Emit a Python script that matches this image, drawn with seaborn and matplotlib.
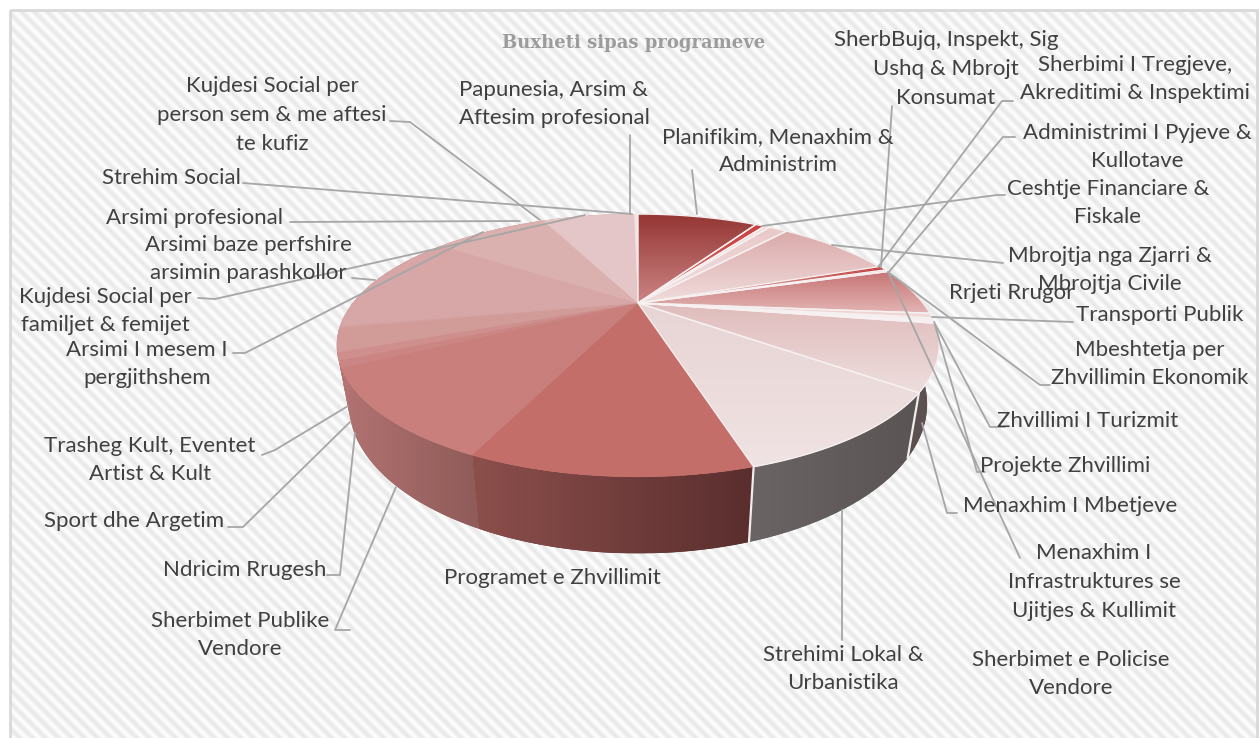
import numpy as np
import seaborn as sns
import matplotlib.pyplot as plt
from matplotlib.patches import Polygon, Rectangle
from matplotlib.path import Path
from matplotlib.transforms import Affine2D, Transform

# Chart data, clockwise from 12 o'clock
categories = ['Planifikim, Menaxhim &\nAdministrim', 'Ceshtje Financiare &\nFiskale',
              'Menaxhim I\nInfrastruktures se\nUjitjes & Kullimit', 'Sherbimet e Policise\nVendore',
              'Mbrojtja nga Zjarri &\nMbrojtja Civile', 'SherbBujq, Inspekt, Sig\nUshq & Mbrojt\nKonsumat',
              'Sherbimi I Tregjeve,\nAkreditimi & Inspektimi', 'Administrimi I Pyjeve &\nKullotave',
              'Rrjeti Rrugor', 'Transporti Publik', 'Mbeshtetja per\nZhvillimin Ekonomik',
              'Zhvillimi I Turizmit', 'Projekte Zhvillimi', 'Menaxhim I Mbetjeve',
              'Strehimi Lokal &\nUrbanistika', 'Programet e Zhvillimit', 'Sherbimet Publike\nVendore',
              'Ndricim Rrugesh', 'Sport dhe Argetim', 'Trasheg Kult, Eventet\nArtist & Kult',
              'Arsimi I mesem I\npergjithshem', 'Kujdesi Social per\nfamiljet & femijet',
              'Arsimi baze perfshire\narsimin parashkollor', 'Arsimi profesional',
              'Kujdesi Social per\nperson sem & me aftesi\nte kufiz', 'Strehim Social',
              'Papunesia, Arsim &\nAftesim profesional']
shares = [8.83, 0.67, 0.39, 1.36, 8.17, 0.28, 0.31, 0.28, 6.06, 0.61, 0.31, 0.19, 0.14, 7.89,
          10.0, 11.25, 10.5, 0.83, 0.94, 2.81, 0.11, 0.11, 12.69, 8.17, 0.11, 6.72, 0.28]
title = 'Buxheti sipas programeve'

# Colours per slice: top face gradient (upper, lower), side wall gradient (left, right)
top_upper = ['#943634', '#cc3f3d', '#f3dcdc', '#e9c9c9', '#dbaaaa', '#c23b3a', '#c23b3a', '#f0d8d8',
             '#c67474', '#eccaca', '#f5e3e3', '#f0d6d6', '#f5e3e3', '#e0bcbc', '#e8d4d4', '#c46e6a',
             '#c97f7c', '#cb8583', '#cf8f8d', '#d19b98', '#d4a1a0', '#d4a1a0', '#d7a6a6', '#dbb1af',
             '#e0bdbd', '#e5c6c8', '#f3e2e3']
top_lower = ['#cc8584', '#e06a68', '#f7e8e8', '#f2e0e0', '#f0dcdc', '#e4a5a3', '#e4a5a3', '#f5e3e3',
             '#e3b4b4', '#f2dcdc', '#f8ecec', '#f4e2e2', '#f8ecec', '#eedddd', '#f0e3e3', '#c46e6a',
             '#c97f7c', '#cb8583', '#cf8f8d', '#d19b98', '#d4a1a0', '#d4a1a0', '#d7a6a6', '#dbb1af',
             '#e0bdbd', '#e5c6c8', '#f3e2e3']
side_left = ['#5c5050'] * 14 + ['#6a6464', '#8c4f4c', '#b27372', '#b47574', '#b47574', '#b47574'] + ['#b47574'] * 7
side_right = ['#5c5050'] * 14 + ['#5b5454', '#5a2e2e', '#8f5b58', '#b27372', '#b27372', '#b27372'] + ['#b47574'] * 7
white_edge = [True, True, True, True, True, False, False] + [True] * 8 + [False] * 12

# Layout in pixels: label centres, then leader lines (one per label, may be empty)
label_pos = [(778, 151), (1108, 203), (1094, 582), (1071, 674), (1110, 270), (946, 69), (1135, 79),
             (1137, 147), (1012, 293), (1160, 315), (1150, 364), (1088, 421), (1065, 466), (1070, 506),
             (843, 669), (552, 578), (240, 635), (245, 570), (134, 521), (150, 460), (147, 364),
             (105, 311), (248, 259), (195, 218), (272, 115), (171, 178), (554, 104)]
leaders = [[(692, 170), (697, 214)], [(762, 226), (997, 195), (1005, 195)], [(1020, 558), (888, 272)], [],
           [(832, 245), (1003, 263)], [(892, 106), (881, 267)], [(1013, 101), (1002, 101), (878, 267)],
           [(1015, 137), (1003, 137), (888, 273)], [], [(1073, 322), (932, 317)],
           [(1050, 385), (1040, 385), (888, 272)], [(1005, 427), (990, 427), (934, 322)],
           [(985, 472), (977, 472), (935, 325)], [(957, 513), (947, 513), (922, 423)],
           [(842, 640), (842, 510)], [], [(350, 630), (335, 630), (396, 487)],
           [(327, 575), (340, 575), (355, 433)], [(228, 527), (243, 527), (350, 422)],
           [(262, 455), (275, 450), (348, 406)], [(233, 353), (245, 353), (483, 232)],
           [(198, 298), (215, 299), (585, 215)], [(352, 278), (375, 280)], [(290, 222), (520, 221)],
           [(390, 121), (410, 122), (540, 220)], [(243, 183), (632, 214)], [(630, 135), (630, 214)]]

W, H = 1259, 738
APEX_X, APEX_Y = 638, 303
PERSP_C, PERSP_A, PERSP_K = 0.323, -19.8, 285
BOTTOM_SCALE = 0.96


class PieTilt(Transform):
    # unit circle -> tilted ellipse in pixels, centre of the pie falls on the apex
    input_dims = output_dims = 2

    def transform_non_affine(self, xy):
        xy = np.asarray(xy, dtype=float)
        w = 1 + PERSP_C * xy[:, 1]
        return np.column_stack((APEX_X + PERSP_K * xy[:, 0] / w, (APEX_Y + PERSP_A * xy[:, 1]) / w))

    def transform_path_non_affine(self, path):
        flat = path.transformed(Affine2D().scale(500)).to_polygons(closed_only=False)[0] / 500
        return Path(self.transform_non_affine(flat))


tilt = PieTilt()


def rim(t1, t2):
    t = np.radians(np.linspace(t1, t2, 40))
    return tilt.transform_non_affine(np.column_stack((np.cos(t), np.sin(t))))


def gradient(ax, c_from, c_to, extent, clip, vertical=True, zorder=2):
    ramp = np.linspace(0, 1, 128)
    ramp = ramp[:, None] if vertical else ramp[None, :]
    cmap = sns.blend_palette([c_from, c_to], as_cmap=True)
    im = ax.imshow(ramp, cmap=cmap, extent=extent, aspect='auto', zorder=zorder, interpolation='bilinear')
    im.set_clip_path(clip)


sns.set_theme(style='white')
plt.rcParams['font.family'] = ['Lato', 'DejaVu Sans']

fig = plt.figure(figsize=(W / 100, H / 100), dpi=100)
ax = fig.add_axes([0, 0, 1, 1])

wedges, _ = ax.pie(shares, startangle=90, counterclock=False, radius=1)

# Side walls first, the top face covers whatever lies behind
for i, w in enumerate(wedges):
    top = rim(w.theta1, w.theta2)
    # wall gets shorter and closer to the middle towards the back
    low = np.column_stack((APEX_X + (top[:, 0] - APEX_X) * BOTTOM_SCALE,
                           top[:, 1] + 75 - (465 - top[:, 1]) * 0.137))
    wall = Polygon(np.vstack((top, low[::-1])), closed=True, facecolor=side_right[i], edgecolor='none', zorder=1.2)
    ax.add_patch(wall)
    x0, x1 = min(top[:, 0].min(), low[:, 0].min()), max(top[:, 0].max(), low[:, 0].max())
    y0, y1 = top[:, 1].min(), low[:, 1].max()
    gradient(ax, side_left[i], side_right[i], (x0, x1, y1, y0), wall, vertical=False, zorder=1.3)
    if white_edge[i] and 99 < (w.theta1 * -1 + 90) % 360 < 170:
        ax.plot([top[0, 0], low[0, 0]], [top[0, 1], low[0, 1]], color='#f2eded', lw=1.6, zorder=1.5)

# Top face
for i, w in enumerate(wedges):
    pts = rim(w.theta1, w.theta2)
    w.set_transform(tilt + ax.transData)
    w.set_facecolor(top_lower[i])
    w.set_edgecolor(top_lower[i])
    w.set_linewidth(0.4)
    w.set_zorder(2)
    x0, x1 = min(pts[:, 0].min(), APEX_X), max(pts[:, 0].max(), APEX_X)
    y0, y1 = min(pts[:, 1].min(), APEX_Y), max(pts[:, 1].max(), APEX_Y)
    gradient(ax, top_upper[i], top_lower[i], (x0, x1, y1, y0), w, zorder=2.1)

for i, w in enumerate(wedges):
    if white_edge[i]:
        pts = np.vstack(([APEX_X, APEX_Y], rim(w.theta1, w.theta2)))
        ax.add_patch(Polygon(pts, closed=True, fill=False, edgecolor='#f6f0f0', lw=1.0, zorder=2.5))

# Striped background and frame
xx, yy = np.meshgrid(np.arange(10, 1259), np.arange(10, 738))
stripes = np.sin((xx - yy) * 2 * np.pi / 13)
ax.imshow(stripes, cmap=sns.blend_palette(['#e9e9e9', '#fdfdfd'], as_cmap=True),
          extent=(10, 1259, 738, 10), aspect='auto', zorder=0)
ax.add_patch(Rectangle((10, 10), 1247, 740, fill=False, edgecolor='#d9d9d9', lw=2, zorder=0.5))

for line in leaders:
    if line:
        xs, ys = zip(*line)
        ax.plot(xs, ys, color='#a6a6a6', lw=1.3, zorder=4)

for name, (x, y) in zip(categories, label_pos):
    ax.text(x, y, name, ha='center', va='center', fontsize=16, color='#404040',
            linespacing=1.55, zorder=5)

ax.text(634, 43, title, ha='center', va='center', fontsize=13, fontweight='bold',
        family='DejaVu Serif', color='#9c9c9c', zorder=5)

ax.set_aspect('auto')
ax.set_xlim(0, W)
ax.set_ylim(H, 0)
ax.axis('off')

fig.savefig('out.png', dpi=100, facecolor='white')
